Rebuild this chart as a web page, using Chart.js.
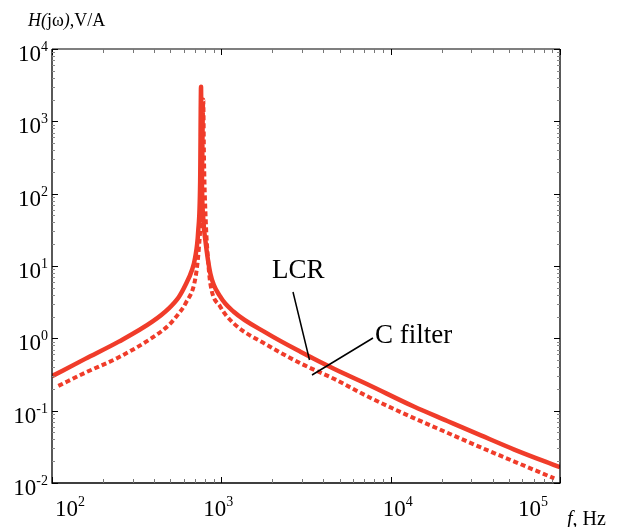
<!DOCTYPE html>
<html>
<head>
<meta charset="utf-8">
<script src="https://cdn.jsdelivr.net/npm/chart.js@4"></script>
<style>
  body { margin: 0; background: #fff; }
</style>
</head>
<body>
<canvas id="chart" width="617" height="527"></canvas>
<script>
// LCR (solid)
const lcrFreq = [100, 157, 248, 391, 490, 560, 615, 671, 700, 730, 750, 759, 768, 785, 804, 861, 986, 1183, 1863, 2930, 4620, 7280, 13700, 21600, 34100, 53700, 100000];
const lcrH    = [0.30, 0.52, 0.90, 1.70, 2.6, 3.7, 5.5, 8.8, 13, 30, 150, 3000, 150, 40, 23, 7.9, 3.76, 2.33, 1.17, 0.653, 0.38, 0.232, 0.114, 0.072, 0.0455, 0.029, 0.0165];

// C filter (dotted)
const cFreq = [109, 157, 248, 391, 490, 560, 615, 705, 738, 760, 774, 782, 790, 810, 835, 861, 986, 1183, 1863, 2930, 4620, 7280, 13700, 21600, 34100, 53700, 92500];
const cH    = [0.22, 0.335, 0.547, 1.02, 1.53, 2.2, 3.05, 7.1, 18.5, 60, 300, 2000, 300, 40, 12, 5.75, 2.74, 1.61, 0.81, 0.452, 0.276, 0.158, 0.079, 0.0495, 0.031, 0.0198, 0.0116];

const xTicks = [1e2, 1e3, 1e4, 1e5];
const xExp = ["2", "3", "4", "5"];
const yTicks = [1e-2, 1e-1, 1e0, 1e1, 1e2, 1e3, 1e4];
const yExp = ["-2", "-1", "0", "1", "2", "3", "4"];

const red = "rgb(240,60,42)";
const serif = "'Liberation Serif', 'Times New Roman', serif";

function toXY(fs, hs) {
  return fs.map((f, i) => ({ x: f, y: hs[i] }));
}

// label nudges (px) for the x tick labels, like in the original figure
const xLabelShift = [3, -18, -8, -42];

function drawPow(ctx, x, y, exp, size, align) {
  ctx.font = size + "px " + serif;
  const w1 = ctx.measureText("10").width;
  ctx.font = Math.round(size * 0.62) + "px " + serif;
  const w2 = ctx.measureText(exp).width;
  let x0 = align === "right" ? x - w1 - w2 : x;
  ctx.textAlign = "left";
  ctx.textBaseline = "alphabetic";
  ctx.font = size + "px " + serif;
  ctx.fillText("10", x0, y);
  ctx.font = Math.round(size * 0.62) + "px " + serif;
  ctx.fillText(exp, x0 + w1, y - 10);
}

// draw a row of text pieces, [text, italic]
function drawRun(ctx, parts, x, y, size) {
  parts.forEach(p => {
    ctx.font = (p[1] ? "italic " : "") + size + "px " + serif;
    ctx.fillText(p[0], x, y);
    x += ctx.measureText(p[0]).width;
  });
}

const frame = {
  id: "frame",
  afterDraw(chart) {
    const ctx = chart.ctx;
    const a = chart.chartArea;
    const xs = chart.scales.x, ys = chart.scales.y;
    ctx.save();

    // box
    ctx.lineWidth = 1.3;
    ctx.strokeStyle = "#555";
    ctx.beginPath(); ctx.moveTo(a.left, a.top); ctx.lineTo(a.right, a.top); ctx.stroke();
    ctx.strokeStyle = "#000";
    ctx.beginPath();
    ctx.moveTo(a.left, a.top); ctx.lineTo(a.left, a.bottom);
    ctx.lineTo(a.right, a.bottom); ctx.lineTo(a.right, a.top);
    ctx.stroke();

    // ticks, pointing inward
    ctx.lineWidth = 1;
    for (let d = 2; d <= 5; d++) {
      for (let m = 1; m <= 9; m++) {
        const v = m * Math.pow(10, d);
        if (v > 1e5 + 1) continue;
        const px = Math.round(xs.getPixelForValue(v)) + 0.5;
        const len = m === 1 ? 6 : 4;
        ctx.strokeStyle = m === 1 ? "#000" : "#777";
        ctx.beginPath();
        ctx.moveTo(px, a.bottom); ctx.lineTo(px, a.bottom - len);
        ctx.moveTo(px, a.top); ctx.lineTo(px, a.top + len);
        ctx.stroke();
      }
    }
    for (let d = -2; d <= 4; d++) {
      for (let m = 1; m <= 9; m++) {
        const v = m * Math.pow(10, d);
        if (v > 1e4 + 1) continue;
        const py = Math.round(ys.getPixelForValue(v)) + 0.5;
        const len = m === 1 ? 6 : 3;
        ctx.strokeStyle = m === 1 ? "#000" : "#888";
        ctx.beginPath();
        ctx.moveTo(a.left, py); ctx.lineTo(a.left + len, py);
        ctx.moveTo(a.right, py); ctx.lineTo(a.right - len, py);
        ctx.stroke();
      }
    }

    // tick labels
    ctx.fillStyle = "#000";
    yTicks.forEach((v, i) => {
      drawPow(ctx, a.left - 4, ys.getPixelForValue(v) + 12, yExp[i], 23, "right");
    });
    xTicks.forEach((v, i) => {
      drawPow(ctx, xs.getPixelForValue(v) + xLabelShift[i], a.bottom + 33, xExp[i], 23, "left");
    });

    // axis titles
    ctx.textAlign = "left";
    drawRun(ctx, [["H(", true], ["jω", false], [")", true], [",V/A", false]], 28, 26, 18);
    drawRun(ctx, [["f", true], [", Hz", false]], 567, 525, 20);

    // curve labels with leader lines
    ctx.font = "27px " + serif;
    ctx.fillText("LCR", 272, 278);
    ctx.fillText("C filter", 375, 343);
    ctx.strokeStyle = "#000";
    ctx.lineWidth = 1.5;
    ctx.beginPath();
    ctx.moveTo(293, 292); ctx.lineTo(309.5, 360);
    ctx.moveTo(373, 338); ctx.lineTo(312, 375);
    ctx.stroke();

    ctx.restore();
  }
};

new Chart(document.getElementById("chart"), {
  type: "line",
  data: {
    datasets: [
      {
        label: "LCR",
        data: toXY(lcrFreq, lcrH),
        borderColor: red,
        borderWidth: 4.5,
        pointRadius: 0,
        cubicInterpolationMode: "monotone",
        borderJoinStyle: "round"
      },
      {
        label: "C filter",
        data: toXY(cFreq, cH),
        borderColor: red,
        borderWidth: 4,
        borderDash: [5, 3],
        pointRadius: 0,
        cubicInterpolationMode: "monotone",
        borderJoinStyle: "round"
      }
    ]
  },
  options: {
    responsive: false,
    animation: false,
    layout: { padding: { left: 52, top: 49, right: 57, bottom: 44 } },
    plugins: { legend: { display: false }, tooltip: { enabled: false } },
    scales: {
      x: { type: "logarithmic", min: 100, max: 1e5, display: false },
      y: { type: "logarithmic", min: 0.01, max: 1e4, display: false }
    }
  },
  plugins: [frame]
});
</script>
</body>
</html>
